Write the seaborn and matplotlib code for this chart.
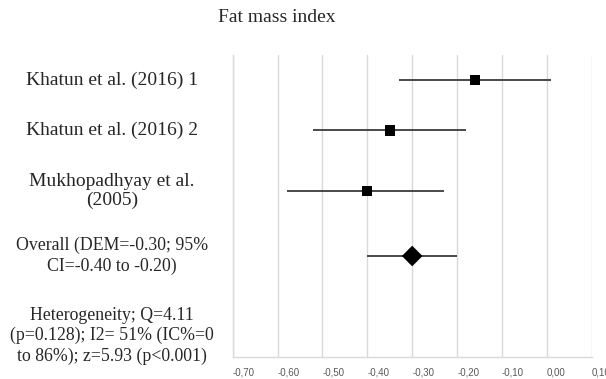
import matplotlib
matplotlib.use("Agg")
import matplotlib.pyplot as plt
import seaborn as sns
import pandas as pd
import numpy as np

# ---- data ----
studies = ["Khatun et al. (2016) 1", "Khatun et al. (2016) 2",
           "Mukhopadhyay et al.\n(2005)", "Overall (DEM=-0.30; 95%\nCI=-0.40 to -0.20)"]
effect = [-0.16, -0.35, -0.40, -0.30]
ci_low = [-0.33, -0.52, -0.58, -0.40]
ci_high = [0.01, -0.18, -0.23, -0.20]
row_y = [5.5, 4.5, 3.3, 2.0]
kind = ["study", "study", "study", "overall"]
heterogeneity = "Heterogeneity; Q=4.11\n(p=0.128); I2= 51% (IC%=0\nto 86%); z=5.93 (p<0.001)"
xticks = [-0.70, -0.60, -0.50, -0.40, -0.30, -0.20, -0.10, 0.00, 0.10]
xtick_labels = ["-0,70", "-0,60", "-0,50", "-0,40", "-0,30", "-0,20", "-0,10", "0,00", "0,10"]
title = "Fat mass index"

df = pd.DataFrame({"study": studies, "effect": effect, "lo": ci_low,
                   "hi": ci_high, "y": row_y, "kind": kind})

sns.set_style("white")
plt.rcParams["font.family"] = ["Liberation Serif", "DejaVu Serif"]

fig = plt.figure(figsize=(6.06, 3.79), dpi=100)
ax = fig.add_axes([232.7 / 606, 1 - 356.5 / 379, (591.7 - 232.7) / 606, (356.5 - 55) / 379])

ax.set_xlim(xticks[0], xticks[-1])
ax.set_ylim(0, 6)

# grid
for xv in xticks:
    ax.axvline(xv, color="#d9d9d9", lw=1.0, zorder=0)

# CI lines
ax.hlines(df["y"], df["lo"], df["hi"], color="#3a3a3a", lw=1.3, zorder=2)

sns.scatterplot(data=df, x="effect", y="y", style="kind",
                markers={"study": "s", "overall": "D"},
                size="kind", sizes={"study": 55, "overall": 110},
                color="black", edgecolor="black", linewidth=0,
                legend=False, ax=ax, zorder=3)

ax.set_xlabel("")
ax.set_ylabel("")
ax.set_yticks([])
ax.set_xticks(xticks)
ax.set_xticklabels(xtick_labels, ha="left", fontsize=7, color="#595959",
                   family=["Liberation Sans", "DejaVu Sans"])
ax.tick_params(axis="x", length=0, pad=8)

for s in ["top", "right"]:
    ax.spines[s].set_visible(False)
for s in ["left", "bottom"]:
    ax.spines[s].set_color("#d9d9d9")
    ax.spines[s].set_linewidth(1.0)

# left labels
label_x = 112 / 606
sizes = [14, 14, 14, 12.8]
for txt, yv, fs in zip(df["study"], df["y"], sizes):
    disp = ax.transData.transform((0, yv))
    fy = fig.transFigure.inverted().transform(disp)[1]
    fig.text(label_x, fy, txt, ha="center", va="center", fontsize=fs,
             linespacing=1.15 if fs == 14 else 1.25)

fig.text(label_x, 1 - 336 / 379, heterogeneity, ha="center", va="center",
         fontsize=12.8, linespacing=1.25)

fig.text(277 / 606, 1 - 17 / 379, title, ha="center", va="center", fontsize=14)

fig.savefig("out.png", dpi=100)
